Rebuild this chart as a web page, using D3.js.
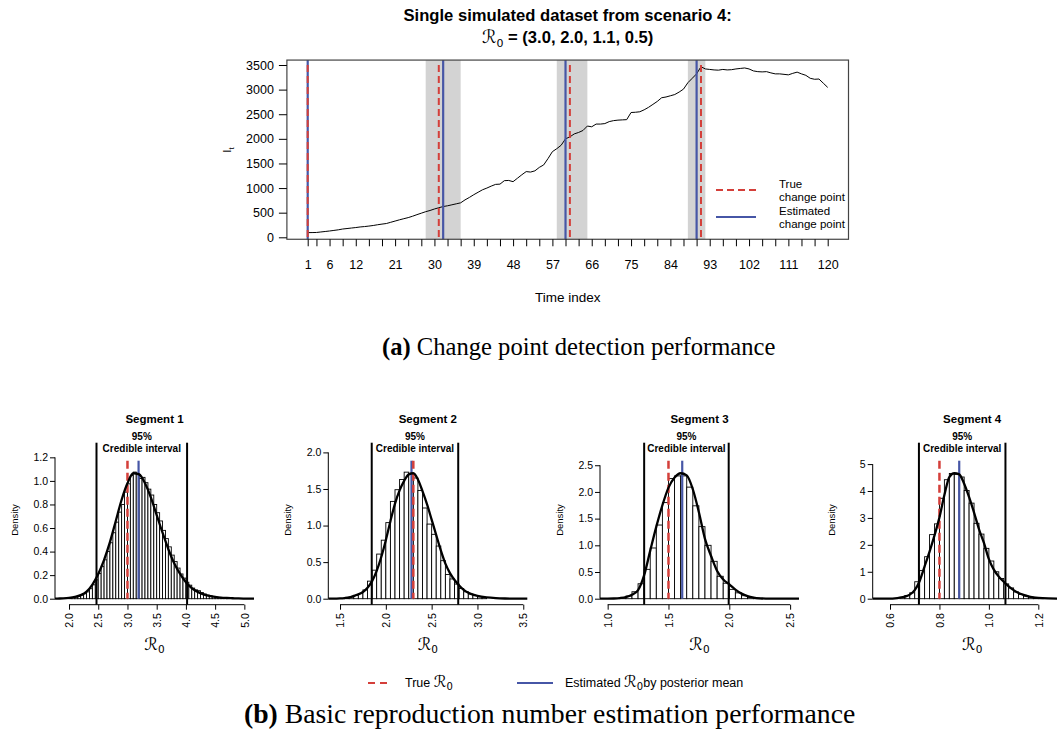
<!DOCTYPE html>
<html>
<head>
<meta charset="utf-8">
<script src="https://cdn.jsdelivr.net/npm/d3@7"></script>
<style>
  body { margin: 0; background: white; }
  text { font-family: "Liberation Sans", Arial, sans-serif; fill: black; }
  .serif { font-family: "Liberation Serif", serif; }
  .script { font-family: "DejaVu Sans", sans-serif; }
</style>
</head>
<body>
<div id="chart"></div>
<script>
// ---------- top panel data ----------
const incidence = [
  95, 96, 98, 108, 118, 128, 140, 152, 168, 178,
  188, 198, 210, 218, 228, 240, 255, 268, 280, 305,
  330, 355, 378, 400, 428, 460, 490, 520, 545, 575,
  600, 625, 640, 660, 680, 700, 760, 810, 865, 915,
  965, 1000, 1040, 1075, 1080, 1150, 1155, 1130, 1200, 1270,
  1335, 1325, 1350, 1420, 1470, 1600, 1740, 1800, 1870, 2000,
  2040, 2100, 2130, 2170, 2260, 2245, 2300, 2300, 2310, 2350,
  2370, 2380, 2385, 2390, 2535, 2540, 2550, 2590, 2640, 2700,
  2760, 2835, 2850, 2875, 2900, 2950, 3010, 3140, 3230, 3320,
  3465, 3420, 3410, 3400, 3395, 3410, 3400, 3405, 3420, 3430,
  3440, 3420, 3380, 3365, 3360, 3365, 3340, 3320, 3320, 3310,
  3300, 3330, 3355, 3320, 3290, 3230, 3210, 3215, 3130, 3045
];
const timeIndex = d3.range(1, 121);
const trueChangePoints = [1, 31, 61, 91];
const estChangePoints = [1, 32, 60, 90];
const credibleBands = [[28, 36], [58, 65], [88, 92]];
const xTickMarks = [1].concat(d3.range(3, 121, 3));
const xTickLabels = [1, 6, 12, 21, 30, 39, 48, 57, 66, 75, 84, 93, 102, 111, 120];
const yTicks = [0, 500, 1000, 1500, 2000, 2500, 3000, 3500];

// ---------- bottom panel data ----------
const segNames = ["Segment 1", "Segment 2", "Segment 3", "Segment 4"];
const trueR0 = [3.0, 2.3, 1.5, 0.8];
const estR0 = [3.19, 2.28, 1.613, 0.88];
const ciLow = [2.47, 1.846, 1.30, 0.717];
const ciHigh = [4.02, 2.79, 1.995, 1.067];
const segXlim = [[1.76, 5.165], [1.372, 3.544], [0.937, 2.573], [0.530, 1.335]];
const segXTicks = [
  ["2.0", "2.5", "3.0", "3.5", "4.0", "4.5", "5.0"],
  ["1.5", "2.0", "2.5", "3.0", "3.5"],
  ["1.0", "1.5", "2.0", "2.5"],
  ["0.6", "0.8", "1.0", "1.2"]
];
const segYTicks = [
  ["0.0", "0.2", "0.4", "0.6", "0.8", "1.0", "1.2"],
  ["0.0", "0.5", "1.0", "1.5", "2.0"],
  ["0.0", "0.5", "1.0", "1.5", "2.0", "2.5"],
  ["0", "1", "2", "3", "4", "5"]
];
const binStart = [2.0, 1.55, 1.10, 0.64];
const binWidth = [0.05, 0.05, 0.05, 0.02];

const seg1Hist = [0.006, 0.010, 0.014, 0.020, 0.030, 0.042, 0.058, 0.085, 0.118, 0.160,
  0.215, 0.275, 0.330, 0.400, 0.475, 0.560, 0.650, 0.735, 0.800, 0.905,
  0.975, 1.045, 1.075, 1.060, 1.020, 1.030, 0.985, 0.930, 0.880, 0.800,
  0.730, 0.660, 0.580, 0.510, 0.440, 0.370, 0.315, 0.260, 0.210, 0.175,
  0.140, 0.115, 0.090, 0.075, 0.068, 0.052, 0.040, 0.030, 0.024, 0.019,
  0.014, 0.010, 0.008, 0.005];
const seg2Hist = [0.010, 0.022, 0.045, 0.070, 0.120, 0.240, 0.390, 0.610, 0.800, 1.040,
  1.330, 1.490, 1.630, 1.730, 1.700, 1.650, 1.480, 1.240, 1.020, 0.880,
  0.720, 0.520, 0.330, 0.270, 0.200, 0.140, 0.095, 0.065, 0.042, 0.025, 0.015];
const seg3Hist = [0.020, 0.050, 0.130, 0.280, 0.550, 0.950, 1.380, 1.800, 2.250, 2.300,
  2.300, 2.090, 1.740, 1.350, 1.000, 0.700, 0.420, 0.290, 0.175, 0.110,
  0.056, 0.025, 0.012];
const seg4Hist = [0.05, 0.12, 0.22, 0.63, 1.05, 1.56, 2.38, 2.78, 3.73, 4.42,
  4.65, 4.62, 4.52, 4.02, 3.55, 2.80, 2.40, 1.87, 1.40, 1.00,
  0.75, 0.55, 0.40, 0.25, 0.16, 0.10, 0.06, 0.03, 0.015];

const seg1Curve = [[1.76, 0.000], [1.8, 0.001], [1.9, 0.003], [2.0, 0.007], [2.1, 0.015], [2.2, 0.030],
  [2.3, 0.060], [2.4, 0.120], [2.5, 0.210], [2.6, 0.330], [2.7, 0.480], [2.8, 0.660], [2.9, 0.840],
  [3.0, 0.980], [3.1, 1.065], [3.2, 1.055], [3.3, 0.980], [3.4, 0.860], [3.5, 0.710], [3.6, 0.560],
  [3.7, 0.420], [3.8, 0.300], [3.9, 0.210], [4.0, 0.140], [4.1, 0.090], [4.2, 0.058], [4.3, 0.037],
  [4.4, 0.024], [4.5, 0.015], [4.6, 0.009], [4.7, 0.006], [4.8, 0.004], [4.9, 0.002], [5.0, 0.001],
  [5.165, 0.000]];
const seg2Curve = [[1.372, 0.000], [1.45, 0.002], [1.50, 0.004], [1.55, 0.009], [1.60, 0.018], [1.65, 0.038],
  [1.70, 0.060], [1.75, 0.092], [1.80, 0.150], [1.85, 0.240], [1.90, 0.380], [1.95, 0.570], [2.00, 0.800],
  [2.05, 1.060], [2.10, 1.300], [2.15, 1.480], [2.20, 1.610], [2.25, 1.700], [2.30, 1.715], [2.35, 1.630],
  [2.40, 1.470], [2.45, 1.290], [2.50, 1.080], [2.55, 0.870], [2.60, 0.660], [2.65, 0.480], [2.70, 0.350],
  [2.75, 0.255], [2.80, 0.180], [2.85, 0.120], [2.90, 0.080], [2.95, 0.055], [3.00, 0.038], [3.10, 0.018],
  [3.20, 0.008], [3.30, 0.003], [3.40, 0.001], [3.544, 0.000]];
const seg3Curve = [[0.937, 0.000], [1.00, 0.001], [1.05, 0.004], [1.10, 0.012], [1.15, 0.030], [1.20, 0.075],
  [1.25, 0.160], [1.30, 0.440], [1.35, 0.900], [1.40, 1.350], [1.45, 1.750], [1.50, 2.080], [1.55, 2.270],
  [1.60, 2.350], [1.65, 2.310], [1.70, 2.050], [1.75, 1.620], [1.80, 1.120], [1.85, 0.800], [1.90, 0.520],
  [1.95, 0.360], [2.00, 0.270], [2.05, 0.170], [2.10, 0.095], [2.15, 0.048], [2.20, 0.022], [2.25, 0.008],
  [2.30, 0.003], [2.40, 0.001], [2.573, 0.000]];
const seg4Curve = [[0.530, 0.000], [0.60, 0.005], [0.62, 0.015], [0.64, 0.040], [0.66, 0.080], [0.68, 0.150],
  [0.70, 0.320], [0.72, 0.660], [0.74, 1.200], [0.76, 1.750], [0.78, 2.350], [0.80, 3.020], [0.82, 3.850],
  [0.84, 4.520], [0.86, 4.660], [0.88, 4.620], [0.90, 4.270], [0.92, 3.770], [0.94, 3.200], [0.96, 2.580],
  [0.98, 2.070], [1.00, 1.470], [1.02, 1.080], [1.04, 0.820], [1.06, 0.630], [1.08, 0.460], [1.10, 0.320],
  [1.12, 0.210], [1.14, 0.140], [1.16, 0.085], [1.18, 0.052], [1.20, 0.030], [1.24, 0.010], [1.30, 0.002],
  [1.335, 0.000]];

const segHist = [seg1Hist, seg2Hist, seg3Hist, seg4Hist];
const segCurves = [seg1Curve, seg2Curve, seg3Curve, seg4Curve];

const RED = "#d43f3a", BLUE = "#4656a6";
const SANS = "Liberation Sans, Arial, sans-serif";

const svg = d3.select("#chart")
    .append("svg")
    .attr("width", 1057)
    .attr("height", 730);

svg.append("rect").attr("width", 1057).attr("height", 730).attr("fill", "white");

// ================= (a) change point panel =================
const xScale = d3.scaleLinear().domain([1, 120]).range([307.7, 827.7]);
const yScale = d3.scaleLinear().domain([0, 3500]).range([237.3, 65]);
const boxL = xScale(-3.76), boxR = xScale(124.76), boxT = yScale(3600), boxB = yScale(-40);

// grey bands for credible intervals of the change points
svg.selectAll(".band")
    .data(credibleBands)
    .enter().append("rect")
    .attr("class", "band")
    .attr("x", d => xScale(d[0]))
    .attr("width", d => xScale(d[1]) - xScale(d[0]))
    .attr("y", boxT)
    .attr("height", boxB - boxT)
    .attr("fill", "#d3d3d3");

// I_t curve
svg.append("path")
    .datum(incidence)
    .attr("fill", "none")
    .attr("stroke", "black")
    .attr("stroke-width", 1)
    .attr("d", d3.line().x((d, i) => xScale(timeIndex[i])).y(d => yScale(d)));

// estimated change points (blue) then true change points (red dashed)
svg.selectAll(".est-cp")
    .data(estChangePoints)
    .enter().append("line")
    .attr("x1", d => xScale(d)).attr("x2", d => xScale(d))
    .attr("y1", boxT).attr("y2", boxB)
    .attr("stroke", BLUE).attr("stroke-width", 2.2);

svg.selectAll(".true-cp")
    .data(trueChangePoints)
    .enter().append("line")
    .attr("x1", d => xScale(d)).attr("x2", d => xScale(d))
    .attr("y1", yScale(3500)).attr("y2", boxB)
    .attr("stroke", RED).attr("stroke-width", 2)
    .attr("stroke-dasharray", "7,4");

// frame
svg.append("rect")
    .attr("x", boxL).attr("y", boxT)
    .attr("width", boxR - boxL).attr("height", boxB - boxT)
    .attr("fill", "none").attr("stroke", "#444").attr("stroke-width", 1.2);

// x axis
const xAxis = svg.append("g")
    .attr("transform", `translate(0, ${boxB})`)
    .call(d3.axisBottom(xScale)
        .tickValues(xTickMarks)
        .tickSize(7)
        .tickPadding(14)
        .tickFormat(d => xTickLabels.includes(d) ? d : ""));
xAxis.select(".domain").remove();
xAxis.selectAll("text").attr("font-size", "12.5px").attr("font-family", SANS);

// y axis
const yAxis = svg.append("g")
    .attr("transform", `translate(${boxL}, 0)`)
    .call(d3.axisLeft(yScale).tickValues(yTicks).tickSize(8).tickPadding(5).tickFormat(d3.format("d")));
yAxis.select(".domain").remove();
yAxis.selectAll("text").attr("font-size", "12.5px").attr("font-family", SANS);

// axis labels
const ylab = svg.append("text")
    .attr("transform", "translate(231, 150) rotate(-90)")
    .attr("text-anchor", "middle")
    .attr("font-size", "11.5px");
ylab.append("tspan").text("I");
ylab.append("tspan").attr("font-size", "8px").attr("dy", 3).text("t");

svg.append("text")
    .attr("x", (boxL + boxR) / 2).attr("y", 302)
    .attr("text-anchor", "middle")
    .attr("font-size", "13.5px")
    .text("Time index");

// title
svg.append("text")
    .attr("x", (boxL + boxR) / 2).attr("y", 21)
    .attr("text-anchor", "middle")
    .attr("font-size", "16.6px").attr("font-weight", "bold")
    .text("Single simulated dataset from scenario 4:");

const t2 = svg.append("text")
    .attr("x", (boxL + boxR) / 2).attr("y", 43)
    .attr("text-anchor", "middle")
    .attr("font-size", "16.6px").attr("font-weight", "bold");
t2.append("tspan").attr("class", "script").attr("font-weight", "normal").attr("font-size", "18px").text("ℛ");
t2.append("tspan").attr("class", "script").attr("font-weight", "normal").attr("font-size", "11px").attr("dy", 4).text("0");
t2.append("tspan").attr("dy", -4).text(" = (3.0, 2.0, 1.1, 0.5)");

// legend
const legTop = [
  { color: RED, dash: "7,4", y: 190, lines: ["True", "change point"] },
  { color: BLUE, dash: null, y: 217, lines: ["Estimated", "change point"] }
];
legTop.forEach(d => {
  svg.append("line")
      .attr("x1", 716).attr("x2", 756).attr("y1", d.y).attr("y2", d.y)
      .attr("stroke", d.color).attr("stroke-width", 2)
      .attr("stroke-dasharray", d.dash);
  d.lines.forEach((s, k) => {
    svg.append("text")
        .attr("x", 779).attr("y", d.y - 2 + k * 13)
        .attr("font-size", "11.5px")
        .text(s);
  });
});

// caption (a)
const capA = svg.append("text").attr("class", "serif").attr("x", 382).attr("y", 355).attr("font-size", "24.6px");
capA.append("tspan").attr("font-weight", "bold").text("(a)");
capA.append("tspan").text(" Change point detection performance");

// ================= (b) posterior histograms =================
const histLeft = [55, 328.3, 600, 872.7], histWidth = 199;
const yZero = 598.7, yTopLine = 460.7, xAxisY = 604.7;

segNames.forEach((name, i) => {
  const left = histLeft[i], right = left + histWidth, mid = (left + right) / 2;
  const hx = d3.scaleLinear().domain(segXlim[i]).range([left, right]);
  const ymax = 1.1 * d3.max(segCurves[i], d => d[1]);
  const hy = d3.scaleLinear().domain([0, ymax]).range([yZero, yTopLine]);
  const g = svg.append("g");

  // bars
  const bins = segHist[i].map((h, j) => ({
    x0: binStart[i] + j * binWidth[i],
    x1: binStart[i] + (j + 1) * binWidth[i],
    h: h
  }));
  g.selectAll(".bar")
      .data(bins)
      .enter().append("rect")
      .attr("x", d => hx(d.x0))
      .attr("width", d => hx(d.x1) - hx(d.x0))
      .attr("y", d => hy(d.h))
      .attr("height", d => hy(0) - hy(d.h))
      .attr("fill", "white")
      .attr("stroke", "black")
      .attr("stroke-width", 0.9);

  // estimated (blue) and true (red dashed) R0
  g.append("line")
      .attr("x1", hx(estR0[i])).attr("x2", hx(estR0[i]))
      .attr("y1", hy(ymax)).attr("y2", hy(0))
      .attr("stroke", BLUE).attr("stroke-width", 2.2);
  g.append("line")
      .attr("x1", hx(trueR0[i])).attr("x2", hx(trueR0[i]))
      .attr("y1", hy(ymax)).attr("y2", hy(0))
      .attr("stroke", RED).attr("stroke-width", 2.5)
      .attr("stroke-dasharray", "8,4");

  // density curve
  g.append("path")
      .datum(segCurves[i])
      .attr("fill", "none")
      .attr("stroke", "black")
      .attr("stroke-width", 2.3)
      .attr("d", d3.line().curve(d3.curveMonotoneX).x(d => hx(d[0])).y(d => hy(d[1])));

  // credible interval lines
  [ciLow[i], ciHigh[i]].forEach(v => {
    g.append("line")
        .attr("x1", hx(v)).attr("x2", hx(v))
        .attr("y1", 442.7).attr("y2", xAxisY)
        .attr("stroke", "black").attr("stroke-width", 2);
  });
  g.append("text")
      .attr("x", (hx(ciLow[i]) + hx(ciHigh[i])) / 2).attr("y", 439.5)
      .attr("text-anchor", "middle").attr("font-size", "10px").attr("font-weight", "bold")
      .text("95%");
  g.append("text")
      .attr("x", (hx(ciLow[i]) + hx(ciHigh[i])) / 2).attr("y", 451.5)
      .attr("text-anchor", "middle").attr("font-size", "10px").attr("font-weight", "bold")
      .text("Credible interval");

  // axes
  const xt = segXTicks[i], yt = segYTicks[i];
  const ax = g.append("g")
      .attr("transform", `translate(0, ${xAxisY})`)
      .call(d3.axisBottom(hx).tickValues(xt.map(Number)).tickSize(5).tickFormat((d, j) => xt[j]));
  ax.select(".domain").remove();
  ax.append("line")
      .attr("x1", hx(+xt[0])).attr("x2", hx(+xt[xt.length - 1]))
      .attr("stroke", "black");
  ax.selectAll("text")
      .attr("transform", "rotate(-90)")
      .attr("text-anchor", "end")
      .attr("x", -8.5).attr("y", 0).attr("dy", "0.35em")
      .attr("font-size", "10.5px")
      .attr("font-family", SANS);

  const ay = g.append("g")
      .attr("transform", `translate(${left}, 0)`)
      .call(d3.axisLeft(hy).tickValues(yt.map(Number)).tickSize(5).tickPadding(2).tickFormat((d, j) => yt[j]));
  ay.select(".domain").remove();
  ay.append("line")
      .attr("y1", hy(0)).attr("y2", hy(+yt[yt.length - 1]))
      .attr("stroke", "black");
  ay.selectAll("text").attr("font-size", "10.5px").attr("font-family", SANS);

  // labels
  g.append("text")
      .attr("x", mid).attr("y", 423)
      .attr("text-anchor", "middle").attr("font-size", "11.5px").attr("font-weight", "bold")
      .text(name);
  g.append("text")
      .attr("transform", `translate(${left - 37.5}, 520) rotate(-90)`)
      .attr("text-anchor", "middle").attr("font-size", "9.5px")
      .text("Density");
  const xl = g.append("text")
      .attr("x", mid).attr("y", 650)
      .attr("text-anchor", "middle").attr("font-size", "17px");
  xl.append("tspan").attr("class", "script").text("ℛ");
  xl.append("tspan").attr("font-size", "10.5px").attr("dy", 3).attr("class", "script").text("0");
});

// bottom legend
svg.append("line")
    .attr("x1", 368).attr("x2", 392).attr("y1", 683).attr("y2", 683)
    .attr("stroke", RED).attr("stroke-width", 2).attr("stroke-dasharray", "7,5");
const lt = svg.append("text").attr("x", 405).attr("y", 687).attr("font-size", "12.5px");
lt.append("tspan").text("True  ");
lt.append("tspan").attr("class", "script").attr("font-size", "16px").text("ℛ");
lt.append("tspan").attr("class", "script").attr("font-size", "10px").attr("dy", 3).text("0");

svg.append("line")
    .attr("x1", 517).attr("x2", 553).attr("y1", 683).attr("y2", 683)
    .attr("stroke", BLUE).attr("stroke-width", 2);
const le = svg.append("text").attr("x", 565).attr("y", 687).attr("font-size", "12.5px");
le.append("tspan").text("Estimated ");
le.append("tspan").attr("class", "script").attr("font-size", "16px").text("ℛ");
le.append("tspan").attr("class", "script").attr("font-size", "10px").attr("dy", 3).text("0");
le.append("tspan").attr("dy", -3).text("by posterior mean");

// caption (b)
const capB = svg.append("text").attr("class", "serif").attr("x", 244).attr("y", 723).attr("font-size", "27.7px");
capB.append("tspan").attr("font-weight", "bold").text("(b)");
capB.append("tspan").text(" Basic reproduction number estimation performance");
</script>
</body>
</html>
